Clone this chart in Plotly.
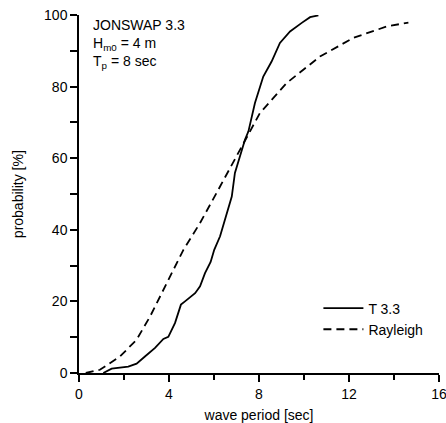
import plotly.graph_objects as go

# measured JONSWAP wave periods, cumulative distribution
t33_period = [1.08, 1.45, 2.19, 2.56, 2.93, 3.38, 3.75, 3.97, 4.27, 4.53, 4.71, 5.16, 5.38,
              5.6, 5.85, 6.01, 6.27, 6.56, 6.79, 6.93, 7.16, 7.38, 7.53, 7.82, 8.19,
              8.56, 8.93, 9.38, 9.9, 10.27, 10.64]
t33_prob = [0, 1.2, 1.8, 2.6, 4.6, 7.0, 9.5, 10.1, 14.0, 19.1, 20.0, 22.3, 24.2,
            27.9, 31.0, 34.4, 38.2, 44.7, 49.3, 55.9, 60.5, 65.2, 67.5, 75.4, 82.8,
            87.0, 92.2, 95.4, 97.8, 99.4, 99.9]

# Rayleigh reference distribution
ray_period = [0.3, 0.93, 1.82, 2.56, 3.16, 3.9, 4.64, 5.38, 5.97, 6.27, 7.16, 8.04,
              9.23, 10.71, 12.19, 13.68, 14.64]
ray_prob = [0, 0.9, 4.6, 9.3, 15.8, 25.1, 34.4, 41.9, 48.4, 52.1, 62.4, 72.6,
            81.0, 88.4, 93.6, 96.8, 97.9]

fig = go.Figure()
fig.add_trace(go.Scatter(x=t33_period, y=t33_prob, mode="lines", name="T 3.3",
                         line=dict(color="black", width=1.8)))
fig.add_trace(go.Scatter(x=ray_period, y=ray_prob, mode="lines", name="Rayleigh",
                         line=dict(color="black", width=1.8, dash="8px,5px")))

fig.add_annotation(
    x=0.033, y=1.0, xref="paper", yref="paper", xanchor="left", yanchor="top",
    align="left", showarrow=False,
    text="JONSWAP 3.3<br>H<sub>m0</sub> = 4 m<br>T<sub>p</sub> = 8 sec",
    font=dict(size=14, color="black"),
)
# y axis title placed by hand so it sits close to the page edge
fig.add_annotation(
    x=-0.169, y=0.5, xref="paper", yref="paper", xanchor="center", yanchor="middle",
    textangle=-90, showarrow=False, text="probability [%]",
    font=dict(size=14, color="black"),
)

axis_style = dict(
    showline=True, linecolor="black", linewidth=1.5, showgrid=False, zeroline=False,
    ticks="outside", ticklen=7, tickwidth=1.5, tickcolor="black",
    tickfont=dict(size=14, color="black"), automargin=False,
    ticklabeloverflow="allow",
)
fig.update_xaxes(range=[0, 16], tickvals=[0, 4, 8, 12, 16],
                 minor=dict(tickvals=[2, 6, 10, 14], ticks="outside", ticklen=5, tickwidth=1.5, tickcolor="black"),
                 title=dict(text="wave period [sec]", font=dict(size=14, color="black")),
                 **axis_style)
fig.update_yaxes(range=[0, 100], tickvals=[0, 20, 40, 60, 80, 100],
                 minor=dict(tickvals=[10, 30, 50, 70, 90], ticks="outside", ticklen=7, tickwidth=1.5, tickcolor="black"),
                 **axis_style)

fig.update_layout(
    width=446, height=423,
    margin=dict(l=79, r=7, t=15, b=50, autoexpand=False),
    plot_bgcolor="white", paper_bgcolor="white",
    font=dict(family="Liberation Sans, Arial, sans-serif", color="black"),
    legend=dict(x=0.665, y=0.225, xanchor="left", yanchor="top",
                font=dict(size=14, color="black"), bgcolor="rgba(0,0,0,0)",
                tracegroupgap=0, itemwidth=40),
    showlegend=True,
)

# page body has an 8px default margin, drop it so the figure fills the window
fig.write_html("out.html", config={"displayModeBar": False},
               post_script="document.body.style.margin='0';")
